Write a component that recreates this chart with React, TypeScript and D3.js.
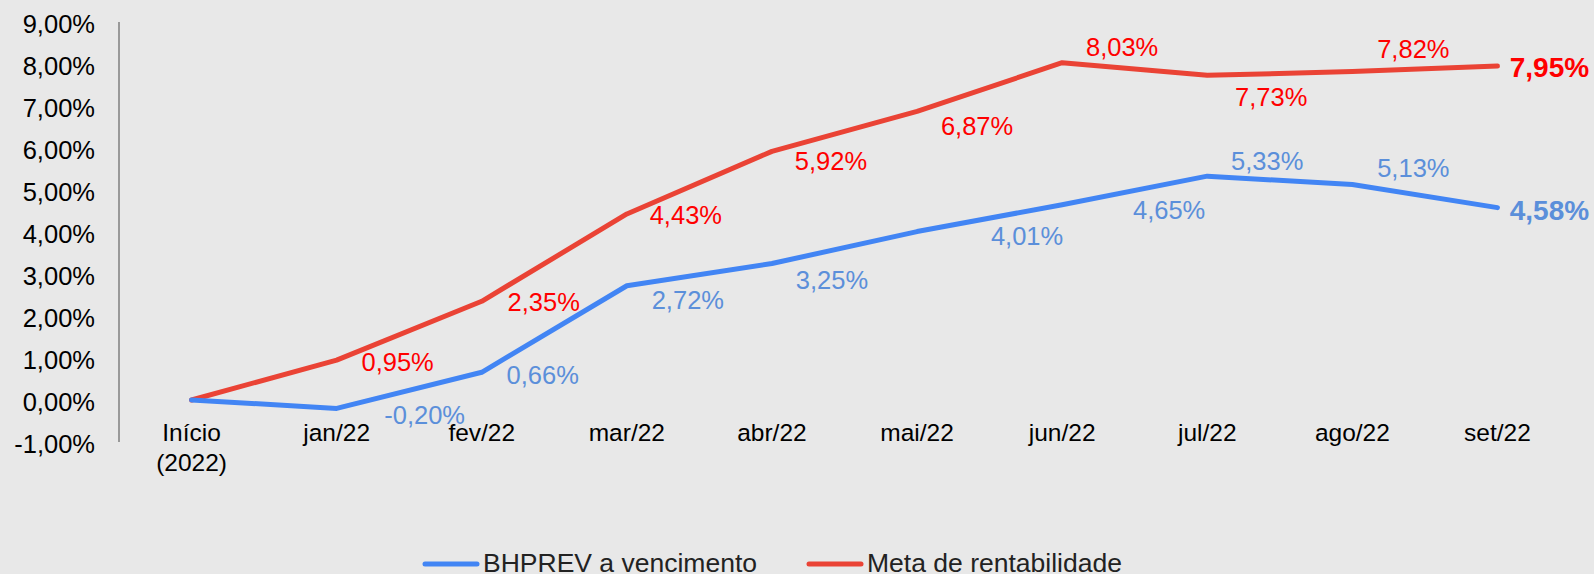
import React, { useEffect } from "react";
import * as d3 from "d3";

const categories = ["Início\n(2022)", "jan/22", "fev/22", "mar/22", "abr/22", "mai/22", "jun/22", "jul/22", "ago/22", "set/22"];
const bhprev = [0, -0.2, 0.66, 2.72, 3.25, 4.01, 4.65, 5.33, 5.13, 4.58];
const meta = [0, 0.95, 2.35, 4.43, 5.92, 6.87, 8.03, 7.73, 7.82, 7.95];
const yTicks = [-1, 0, 1, 2, 3, 4, 5, 6, 7, 8, 9];
const seriesNames = ["BHPREV a vencimento", "Meta de rentabilidade"];

// label offsets (layout) relative to each point, index 0 has no label
const metaLabelOffsets: [number, number][] = [[0, 0], [61, 2], [62, 1], [59, 1], [59, 10], [60, 15], [60, -16], [64, 22], [61, -23], [52, 1]];
const bhLabelOffsets: [number, number][] = [[0, 0], [88, 7], [61, 3], [61, 14], [60, 16], [110, 4], [107, 5], [60, -15], [61, -17], [52, 2]];

const W = 1594;
const H = 574;
const BLUE = "#4285F4";
const RED = "#EA4335";
const BLUE_LABEL = "#5B8FDA";
const RED_LABEL = "#FF0000";
const FONT = "'Liberation Sans', Arial, sans-serif";

const fmt = (v: number) => v.toFixed(2).replace(".", ",") + "%";

export default function App() {
  useEffect(() => {
    document.body.style.margin = "0";
  }, []);

  const x = d3.scaleBand<string>().domain(categories).range([119, 1570]).padding(0);
  const cx = (i: number) => (x(categories[i]) as number) + x.bandwidth() / 2;
  const y = d3.scaleLinear().domain([-1, 9]).range([442, 22]);

  const line = d3
    .line<number>()
    .x((_, i) => cx(i))
    .y((d) => y(d));

  const last = categories.length - 1;

  return (
    <svg width={W} height={H} style={{ display: "block" }} fontFamily={FONT}>
      <rect x={0} y={0} width={W} height={H} fill="#E8E8E8" />
      {/* y axis */}
      <line x1={119} x2={119} y1={y(9)} y2={y(-1)} stroke="#999999" strokeWidth={2} />
      {yTicks.map((t) => (
        <text key={t} x={95} y={y(t) + 10.5} textAnchor="end" fontSize={25.5} fill="#000">
          {fmt(t)}
        </text>
      ))}
      {/* x labels */}
      {categories.map((c, i) => (
        <text key={c} x={cx(i)} y={441} textAnchor="middle" fontSize={24.5} fill="#000">
          {c.split("\n").map((part, k) => (
            <tspan key={k} x={cx(i)} dy={k === 0 ? 0 : 30}>
              {part}
            </tspan>
          ))}
        </text>
      ))}
      {/* lines */}
      <path d={line(meta) || ""} fill="none" stroke={RED} strokeWidth={5} strokeLinejoin="round" strokeLinecap="round" />
      <path d={line(bhprev) || ""} fill="none" stroke={BLUE} strokeWidth={5} strokeLinejoin="round" strokeLinecap="round" />
      {/* labels */}
      {meta.map((v, i) =>
        i === 0 ? null : (
          <text
            key={"m" + i}
            x={cx(i) + metaLabelOffsets[i][0]}
            y={y(v) + metaLabelOffsets[i][1] + (i === last ? 10 : 9)}
            textAnchor="middle"
            fontSize={i === last ? 28 : 25.5}
            fontWeight={i === last ? "bold" : "normal"}
            fill={RED_LABEL}
          >
            {fmt(v)}
          </text>
        )
      )}
      {bhprev.map((v, i) =>
        i === 0 ? null : (
          <text
            key={"b" + i}
            x={cx(i) + bhLabelOffsets[i][0]}
            y={y(v) + bhLabelOffsets[i][1] + (i === last ? 10 : 9)}
            textAnchor="middle"
            fontSize={i === last ? 28 : 25.5}
            fontWeight={i === last ? "bold" : "normal"}
            fill={BLUE_LABEL}
          >
            {fmt(v)}
          </text>
        )
      )}
      {/* legend */}
      <line x1={425} x2={477} y1={564} y2={564} stroke={BLUE} strokeWidth={5} strokeLinecap="round" />
      <text x={483} y={572} fontSize={26.5} textLength={274} lengthAdjust="spacingAndGlyphs" fill="#222">
        {seriesNames[0]}
      </text>
      <line x1={809} x2={861} y1={564} y2={564} stroke={RED} strokeWidth={5} strokeLinecap="round" />
      <text x={867} y={572} fontSize={26.5} textLength={255} lengthAdjust="spacingAndGlyphs" fill="#222">
        {seriesNames[1]}
      </text>
    </svg>
  );
}
